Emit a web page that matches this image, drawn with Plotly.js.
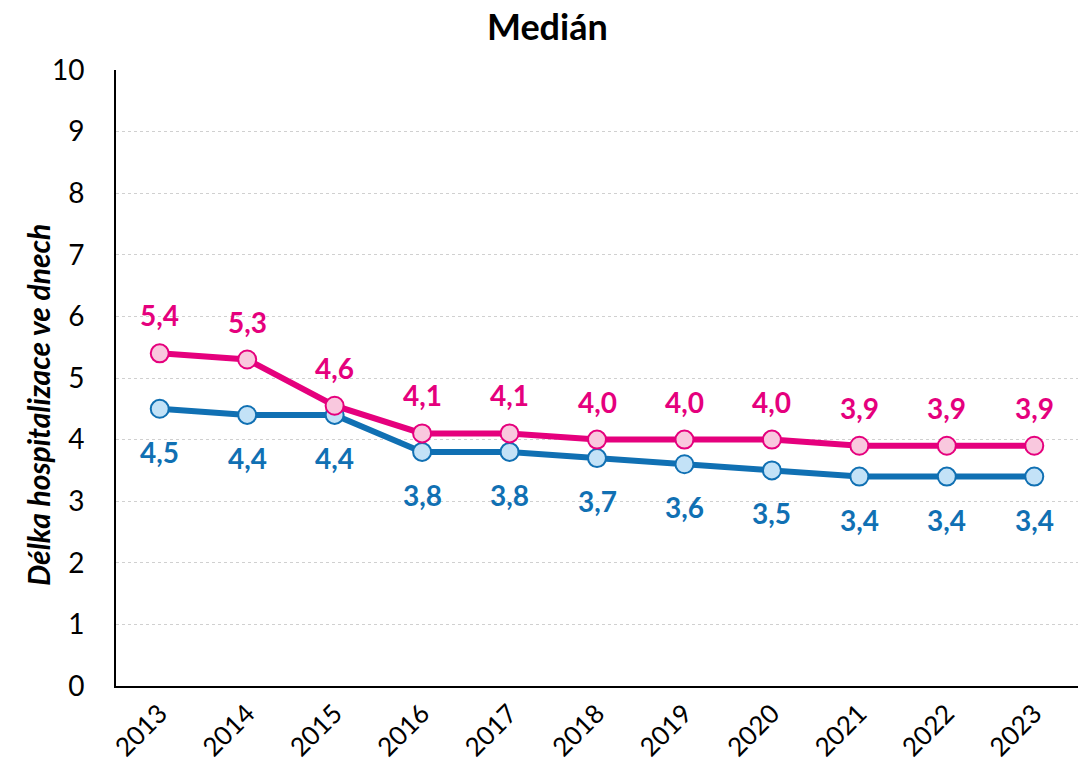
<!DOCTYPE html>
<html><head><meta charset="utf-8">
<script src="https://cdn.plot.ly/plotly-3.0.1.min.js"></script>
<style>html,body{margin:0;padding:0;background:#fff}#c{width:1086px;height:771px}</style>
</head><body><div id="c"></div>
<script>
const years = ['2013','2014','2015','2016','2017','2018','2019','2020','2021','2022','2023'];
const pinkValues = [5.4, 5.3, 4.55, 4.1, 4.1, 4.0, 4.0, 4.0, 3.9, 3.9, 3.9];
const pinkLabels = ['5,4','5,3','4,6','4,1','4,1','4,0','4,0','4,0','3,9','3,9','3,9'];
const blueValues = [4.5, 4.4, 4.4, 3.8, 3.8, 3.7, 3.6, 3.5, 3.4, 3.4, 3.4];
const blueLabels = ['4,5','4,4','4,4','3,8','3,8','3,7','3,6','3,5','3,4','3,4','3,4'];
const yTitle = 'Délka hospitalizace ve dnech';

const PINK = '#E5007D', PINKF = '#F9C8DE', BLUE = '#1070B3', BLUEF = '#C3E2F7';
const FONT = 'Lato, "Open Sans", sans-serif';

const traces = [
  {x: years, y: blueValues, type: 'scatter', mode: 'lines+markers',
   line: {color: BLUE, width: 6}, marker: {size: 18, color: BLUEF, line: {color: BLUE, width: 2}}},
  {x: years, y: pinkValues, type: 'scatter', mode: 'lines+markers',
   line: {color: PINK, width: 6}, marker: {size: 18, color: PINKF, line: {color: PINK, width: 2}}}
];
const ann = [];
years.forEach((yr, i) => {
  ann.push({x: i, y: pinkValues[i], xref: 'x', yref: 'y', text: '<b>' + pinkLabels[i] + '</b>', showarrow: false, yshift: 38,
    font: {family: FONT, size: 28, color: PINK}});
  ann.push({x: i, y: blueValues[i], xref: 'x', yref: 'y', text: '<b>' + blueLabels[i] + '</b>', showarrow: false, yshift: -43,
    font: {family: FONT, size: 28, color: BLUE}});
});
ann.push({xref: 'paper', yref: 'paper', x: 0, y: 0.456, xshift: -78, xanchor: 'center', yanchor: 'middle',
  textangle: -90, showarrow: false, text: '<b><i>' + yTitle + '</i></b>',
  font: {family: FONT, size: 30, color: '#000'}});
const layout = {
  width: 1086, height: 771,
  margin: {l: 116, r: 8, t: 70, b: 85},
  paper_bgcolor: '#fff', plot_bgcolor: '#fff',
  showlegend: false,
  font: {family: FONT, color: '#000'},
  title: {text: '<b>Medián</b>', x: 0.504, xanchor: 'center', y: 0.965, yanchor: 'middle',
    font: {family: FONT, size: 36, color: '#000'}},
  xaxis: {type: 'category', range: [-0.5, 10.5], showgrid: false, showline: true,
    linecolor: '#000', linewidth: 2, ticks: '', tickangle: -45,
    tickfont: {family: FONT, size: 26, color: '#000'}, fixedrange: true},
  yaxis: {range: [0, 10], dtick: 1, showgrid: true, gridcolor: '#D0D0D0', griddash: 'dot', gridwidth: 1,
    showline: true, linecolor: '#000', linewidth: 2, ticks: '', zeroline: false,
    tickfont: {family: FONT, size: 28, color: '#000'}, ticklabelstandoff: 24},
  annotations: ann
};
Plotly.newPlot('c', traces, layout, {displayModeBar: false, staticPlot: true});
</script></body></html>
